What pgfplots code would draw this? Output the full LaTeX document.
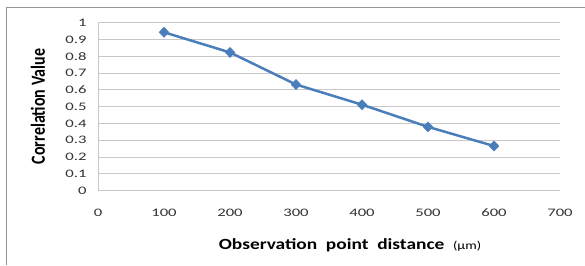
\documentclass[border=0pt]{standalone}
\usepackage{fontspec}
\setmainfont{Carlito}
\usepackage{pgfplots}
\pgfplotsset{compat=1.18}
\definecolor{exblue}{RGB}{74,126,187}
\definecolor{gridgray}{RGB}{200,200,200}
\definecolor{framegray}{RGB}{150,150,150}
\newcommand{\sx}[1]{\scalebox{1.45}[1]{#1}}
\begin{document}
\begin{tikzpicture}[x=1bp,y=1bp]
\useasboundingbox (0,0) rectangle (585,265);
\draw[framegray,line width=1bp] (6.3,0) -- (6.3,257.7) -- (585,257.7);
\begin{axis}[
  at={(98bp,74.3bp)}, anchor=south west,
  scale only axis, width=462bp, height=168bp,
  xmin=0, xmax=700, ymin=0, ymax=1,
  xtick={0,100,...,700},
  xticklabels={\sx{0},\sx{100},\sx{200},\sx{300},\sx{400},\sx{500},\sx{600},\sx{700}},
  ytick={0,0.1,...,1.0},
  yticklabels={\sx{0},\sx{0.1},\sx{0.2},\sx{0.3},\sx{0.4},\sx{0.5},\sx{0.6},\sx{0.7},\sx{0.8},\sx{0.9},\sx{1}},
  tick label style={font=\fontsize{11.5bp}{13bp}\selectfont, text=black!80},
  xticklabel style={yshift=-15bp},
  yticklabel style={xshift=-8bp},
  major tick length=0pt,
  ymajorgrids, grid style={gridgray, line width=1bp},
  axis x line*=bottom, axis y line*=left,
  axis line style={gridgray, line width=1bp, -},
  clip=false,
]
\addplot[exblue, line width=2.5bp, mark=diamond*, mark size=5bp, mark options={fill=exblue, draw=exblue, line width=0.5bp, xscale=1.3}]
 coordinates {(100,0.943) (200,0.823) (300,0.632) (400,0.512) (500,0.38) (600,0.266)};
\end{axis}
\node[rotate=90, font=\bfseries\fontsize{16bp}{18bp}\selectfont] at (38,158.5) {\scalebox{1}[1.25]{Correlation Value}};
\node[font=\bfseries\fontsize{15.5bp}{17bp}\selectfont] at (350,20) {\scalebox{1.25}[1]{Observation\ \ point\ \ distance\ \ {\mdseries\fontsize{11.5bp}{12bp}\selectfont(µm)}}};
\end{tikzpicture}
\end{document}
